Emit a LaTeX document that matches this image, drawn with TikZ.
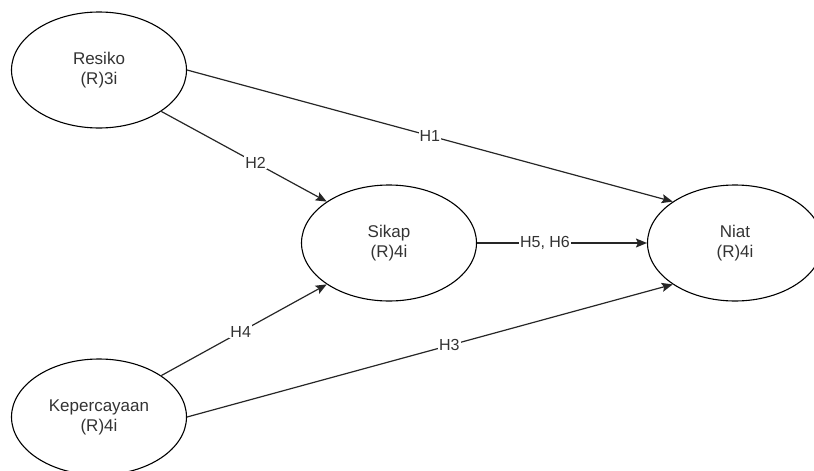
\documentclass[tikz,border=0pt]{standalone}
\usepackage{fontspec}
\setmainfont{Liberation Sans}
\usetikzlibrary{shapes.geometric,arrows.meta}
\begin{document}
\begin{tikzpicture}[x=1pt,y=-1pt,
  latent/.style={ellipse,draw=black,line width=1.1pt,minimum width=175pt,minimum height=116pt,inner sep=0pt,align=center,font=\fontsize{17}{20}\selectfont,text=black!80},
  path/.style={draw=black!85,line width=1.2pt,-{Stealth[length=11pt,width=9pt,inset=2pt]}},
  hlab/.style={fill=white,inner sep=1pt,font=\fontsize{16}{18}\selectfont,text=black!80}]
\useasboundingbox (0,0) rectangle (814,471);
\node[latent] (res) at (99,70) {Resiko\\(R)3i};
\node[latent] (sik) at (389,243) {Sikap\\(R)4i};
\node[latent] (nia) at (735,243) {Niat\\(R)4i};
\node[latent] (kep) at (99,417) {Kepercayaan\\(R)4i};
\draw[path] (res.east) -- node[hlab,pos=0.5] (h1) {H1} (nia.north west);
\draw[path] (res.south east) -- node[hlab,pos=0.57] (h2) {H2} (sik.north west);
\draw[path] (kep.east) -- node[hlab,pos=0.54] (h3) {H3} (nia.south west);
\draw[path] (kep.north east) -- node[hlab,pos=0.48] (h4) {H4} (sik.south west);
\draw[path] (sik.east) -- node[hlab,pos=0.40] (h5) {H5, H6} (nia.west);
\end{tikzpicture}
\end{document}
